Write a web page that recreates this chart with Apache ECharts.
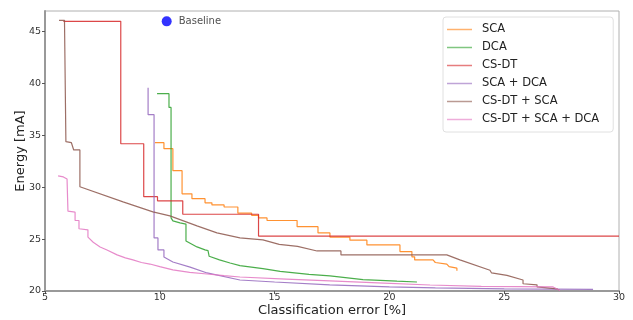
<!DOCTYPE html>
<html>
<head>
<meta charset="utf-8">
<script src="https://cdn.jsdelivr.net/npm/echarts@6/dist/echarts.min.js"></script>
<style>html,body{margin:0;padding:0;background:#fff;}#c{width:633px;height:320px;}</style>
</head>
<body>
<div id="c"></div>
<script>
// Pareto fronts, as polyline vertices (x = classification error %, y = energy mA)
const seriesNames = ['SCA', 'DCA', 'CS-DT', 'SCA + DCA', 'CS-DT + SCA', 'CS-DT + SCA + DCA'];

const scaX = [9.79, 10.18, 10.18, 10.57, 10.57, 10.97, 10.97, 11.4, 11.4, 11.97, 11.97, 12.27, 12.27, 12.8, 12.8, 13.4, 13.4, 14.0, 14.0, 14.3, 14.3, 14.67, 14.67, 15.98, 15.98, 16.89, 16.89, 17.41, 17.41, 18.28, 18.28, 19.02, 19.02, 20.46, 20.46, 20.98, 20.98, 21.1, 21.1, 21.9, 22.0, 22.5, 22.6, 22.94, 22.94];
const scaY = [34.3, 34.3, 33.72, 33.72, 31.6, 31.6, 29.37, 29.37, 28.9, 28.9, 28.5, 28.5, 28.3, 28.3, 28.1, 28.1, 27.5, 27.5, 27.3, 27.3, 27.05, 27.05, 26.8, 26.8, 26.2, 26.2, 25.6, 25.6, 25.2, 25.2, 24.9, 24.9, 24.44, 24.44, 23.8, 23.8, 23.3, 23.3, 23.0, 23.0, 22.75, 22.6, 22.35, 22.2, 21.95];

const dcaX = [9.88, 10.4, 10.4, 10.49, 10.49, 10.57, 10.88, 11.14, 11.14, 11.62, 11.97, 12.1, 12.15, 12.6, 13.06, 13.49, 14.49, 15.24, 16.5, 17.41, 18.85, 20.33, 21.2];
const dcaY = [39.03, 39.03, 37.7, 37.7, 27.05, 26.76, 26.57, 26.45, 24.83, 24.25, 23.96, 23.9, 23.35, 23.0, 22.7, 22.45, 22.15, 21.9, 21.6, 21.45, 21.1, 20.95, 20.87];

const csdtX = [5.8, 8.3, 8.3, 9.3, 9.3, 9.9, 9.9, 11.0, 11.0, 14.3, 14.3, 30.0];
const csdtY = [46.0, 46.0, 34.2, 34.2, 29.1, 29.1, 28.7, 28.7, 27.4, 27.4, 25.3, 25.3];

const scaDcaX = [9.49, 9.49, 9.75, 9.75, 9.92, 9.92, 10.18, 10.18, 10.57, 11.32, 12.06, 13.49, 15.0, 17.4, 20.0, 22.0, 25.0, 28.87];
const scaDcaY = [39.6, 37.0, 37.0, 25.12, 25.12, 23.96, 23.96, 23.28, 22.8, 22.3, 21.74, 21.06, 20.87, 20.6, 20.4, 20.3, 20.2, 20.15];

const csdtScaX = [5.61, 5.85, 5.85, 5.91, 5.91, 6.15, 6.25, 6.52, 6.52, 8.4, 9.7, 10.44, 11.62, 12.49, 13.49, 14.49, 15.2, 16.0, 16.85, 17.89, 17.89, 22.5, 23.07, 24.38, 24.45, 25.12, 25.82, 25.82, 26.43, 26.43, 27.3, 27.4];
const csdtScaY = [46.1, 46.1, 45.9, 45.9, 34.4, 34.3, 33.6, 33.6, 30.05, 28.6, 27.63, 27.25, 26.28, 25.6, 25.12, 24.93, 24.5, 24.3, 23.86, 23.86, 23.48, 23.48, 23.0, 22.0, 21.74, 21.5, 21.06, 20.7, 20.6, 20.4, 20.2, 20.1];

const allX = [5.57, 5.8, 5.96, 6.0, 6.0, 6.31, 6.31, 6.48, 6.48, 6.87, 6.87, 7.1, 7.4, 7.7, 8.14, 8.5, 8.83, 9.2, 9.57, 10.0, 10.57, 11.3, 12.06, 12.8, 13.49, 15.5, 17.41, 19.5, 21.77, 24.0, 27.13, 27.43];
const allY = [31.1, 31.0, 30.8, 30.8, 27.7, 27.6, 26.8, 26.8, 26.0, 25.9, 25.2, 24.7, 24.25, 23.96, 23.48, 23.2, 23.0, 22.75, 22.6, 22.35, 22.03, 21.8, 21.64, 21.48, 21.35, 21.15, 20.97, 20.78, 20.58, 20.45, 20.39, 20.05];

const baselineX = [10.3];
const baselineY = [46.0];
const baselineLabel = 'Baseline';

const xTicks = [5, 10, 15, 20, 25, 30];
const yTicks = [20, 25, 30, 35, 40, 45];

const colors = ['#ff7f0e', '#2ca02c', '#d62728', '#9467bd', '#8c564b', '#e377c2'];
const xsList = [scaX, dcaX, csdtX, scaDcaX, csdtScaX, allX];
const ysList = [scaY, dcaY, csdtY, scaDcaY, csdtScaY, allY];

function pairs(xs, ys) { return xs.map((x, i) => [x, ys[i]]); }

const series = seriesNames.map((name, i) => ({
  name: name,
  type: 'line',
  symbol: 'none',
  data: pairs(xsList[i], ysList[i]),
  lineStyle: { color: colors[i], width: 1.2, opacity: 0.85 },
  itemStyle: { color: colors[i] },
  z: 2
}));

series.push({
  name: baselineLabel,
  type: 'scatter',
  data: pairs(baselineX, baselineY),
  symbolSize: 10,
  itemStyle: { color: '#0000ff' },
  label: { show: true, position: 'right', distance: 7, formatter: baselineLabel, fontSize: 10, color: '#222', fontFamily: 'DejaVu Sans' },
  z: 3
});

const chart = echarts.init(document.getElementById('c'), null, { renderer: 'canvas' });
chart.setOption({
  animation: false,
  backgroundColor: '#fff',
  grid: { left: 45, right: 14, top: 11, bottom: 29, show: true, borderColor: '#b0b0b0', borderWidth: 1, outerBoundsMode: 'none', containLabel: false },
  legend: {
    data: seriesNames.map((n, i) => ({ name: n, itemStyle: { color: colors[i], opacity: 0.6 } })),
    orient: 'vertical',
    left: 443,
    top: 17,
    padding: [6, 14, 6, 4],
    icon: 'rect',
    itemWidth: 25,
    itemHeight: 1.5,
    itemGap: 5,
    backgroundColor: '#fff',
    borderColor: '#e0e0e0',
    borderWidth: 1,
    borderRadius: 3,
    textStyle: { fontSize: 11.5, lineHeight: 13, color: '#222', fontFamily: 'DejaVu Sans', padding: [0, 0, 0, 5] }
  },
  xAxis: {
    type: 'value', min: 5, max: 30, interval: 5,
    name: 'Classification error [%]', nameLocation: 'middle', nameGap: 13, nameMoveOverlap: false,
    nameTextStyle: { fontSize: 13, color: '#222', fontFamily: 'DejaVu Sans' },
    axisLine: { show: true, lineStyle: { color: '#999', width: 2 } },
    axisTick: { show: true, length: 3, lineStyle: { color: '#555' } },
    axisLabel: { fontSize: 9.5, color: '#333', margin: 2, fontFamily: 'DejaVu Sans',
      formatter: v => xTicks.includes(v) ? String(v) : '' },
    splitLine: { show: false }
  },
  yAxis: {
    type: 'value', min: 20, max: 47, interval: 5,
    name: 'Energy [mA]', nameLocation: 'middle', nameGap: 18, nameRotate: 90, nameMoveOverlap: false,
    nameTextStyle: { fontSize: 13, color: '#222', fontFamily: 'DejaVu Sans' },
    axisLine: { show: true, lineStyle: { color: '#999', width: 2 } },
    axisTick: { show: true, length: 3, lineStyle: { color: '#555' } },
    axisLabel: { fontSize: 9.5, color: '#333', margin: 4, fontFamily: 'DejaVu Sans', showMaxLabel: false,
      formatter: v => yTicks.includes(v) ? String(v) : '' },
    splitLine: { show: false }
  },
  series: series
});
</script>
</body>
</html>
